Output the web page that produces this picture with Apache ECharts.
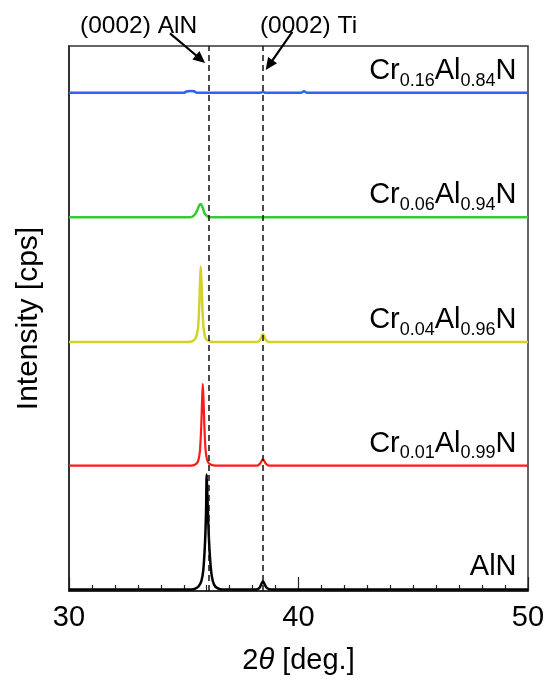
<!DOCTYPE html>
<html><head><meta charset="utf-8">
<script src="https://cdn.jsdelivr.net/npm/echarts@6/dist/echarts.min.js"></script>
<style>html,body{margin:0;padding:0;background:#fff}#c{width:550px;height:680px}</style>
</head><body><div id="c"></div>
<script>
// ---- data ----
const xTickLabels = [30, 40, 50];
const sampleLabels = ['AlN', 'Cr{s|0.01}Al{s|0.99}N', 'Cr{s|0.04}Al{s|0.96}N', 'Cr{s|0.06}Al{s|0.94}N', 'Cr{s|0.16}Al{s|0.84}N'];
const offsets = [0.27, 23.0, 45.7, 68.6, 91.4];

const alnX = [30, 35.35, 35.5, 35.65, 35.77, 35.85, 35.92, 35.97, 36.0, 36.04, 36.09, 36.15, 36.22, 36.32, 36.47, 36.7, 38.15, 38.3, 38.38, 38.45, 38.52, 38.62, 38.8, 50];
const alnY = [0, 0, 0.15, 0.6, 1.6, 3.5, 8, 14, 21.1, 16, 10, 5.5, 2.5, 0.9, 0.25, 0, 0, 0.3, 1.0, 1.5, 1.0, 0.3, 0, 0];

const cr01X = [30, 35.3, 35.5, 35.62, 35.7, 35.76, 35.8, 35.83, 35.87, 35.91, 35.96, 36.05, 36.2, 36.4, 38.2, 38.33, 38.45, 38.57, 38.7, 50];
const cr01Y = [0, 0, 0.2, 0.8, 2.5, 7, 12, 15.0, 11, 6, 2.5, 0.7, 0.15, 0, 0, 0.4, 1.2, 0.4, 0, 0];

const cr04X = [30, 35.2, 35.4, 35.53, 35.62, 35.68, 35.71, 35.74, 35.78, 35.82, 35.87, 35.96, 36.1, 36.3, 38.2, 38.33, 38.45, 38.57, 38.7, 50];
const cr04Y = [0, 0, 0.2, 0.8, 2.5, 7, 11, 13.8, 10, 5.5, 2.3, 0.6, 0.15, 0, 0, 0.4, 1.4, 0.4, 0, 0];

const cr06X = [30, 35.3, 35.45, 35.58, 35.68, 35.74, 35.82, 35.92, 36.05, 36.15, 50];
const cr06Y = [0, 0, 0.3, 1.2, 2.2, 2.4, 1.8, 0.6, 0.1, 0, 0];

const cr16X = [30, 35.0, 35.12, 35.3, 35.45, 35.58, 38.35, 38.45, 38.55, 40.1, 40.24, 40.38, 50];
const cr16Y = [0, 0, 0.25, 0.35, 0.3, 0, 0, 0.2, 0, 0, 0.3, 0, 0];

const seriesX = [alnX, cr01X, cr04X, cr06X, cr16X];
const seriesY = [alnY, cr01Y, cr04Y, cr06Y, cr16Y];
const refLines = [36.07, 38.44];
const refNames = ['(0002) AlN', '(0002) Ti'];

// ---- styles ----
const colors = ['#000000', '#ff1a1a', '#d2d22a', '#33cc33', '#2f62ee'];
const widths = [2.5, 2.2, 2.5, 2.5, 2.5];
const FONT = 'Liberation Sans, Arial, sans-serif';
const MAIN_FS = 29, SUB_FS = 18;

const chart = echarts.init(document.getElementById('c'), null, {renderer: 'canvas'});

const series = seriesX.map((xs, i) => ({
  type: 'line',
  data: xs.map((x, j) => [x, seriesY[i][j] + offsets[i]]),
  symbol: 'none',
  smooth: 0.3,
  lineStyle: {color: colors[i], width: widths[i]},
  z: 3,
  animation: false,
  markLine: i === 0 ? {
    silent: true,
    symbol: ['none', 'none'],
    label: {show: false},
    animation: false,
    lineStyle: {type: [6, 4], color: '#111', width: 1.5},
    data: refLines.map(v => ({xAxis: v}))
  } : undefined
}));

chart.setOption({
  animation: false,
  backgroundColor: '#fff',
  grid: {left: 69, right: 22, top: 46, bottom: 88.5, show: true, borderColor: '#333', borderWidth: 1.5, backgroundColor: 'transparent'},
  xAxis: {
    type: 'value', min: 30, max: 50, interval: 10,
    axisLine: {show: true, lineStyle: {color: '#222', width: 1.5}},
    axisTick: {show: true, inside: true, length: 14, lineStyle: {color: '#222', width: 1.2}},
    minorTick: {show: true, splitNumber: 10, length: 6, lineStyle: {color: '#222', width: 1.2}},
    splitLine: {show: false},
    axisLabel: {fontSize: 29, color: '#000', margin: 12, fontFamily: FONT,
      formatter: v => xTickLabels.includes(v) ? String(v) : ''},
    name: '2{i|θ} [deg.]', nameLocation: 'middle', nameGap: 55,
    nameTextStyle: {fontSize: 29, color: '#000', fontFamily: FONT,
      rich: {i: {fontStyle: 'italic', fontSize: 29, fontFamily: FONT, color: '#000'}}}
  },
  yAxis: {
    type: 'value', min: 0, max: 100,
    axisLine: {show: true, lineStyle: {color: '#222', width: 1.5}},
    axisTick: {show: false}, axisLabel: {show: false}, splitLine: {show: false},
    name: 'Intensity [cps]', nameLocation: 'middle', nameGap: 25, nameRotate: 90,
    nameTextStyle: {fontSize: 30, color: '#000', fontFamily: FONT}
  },
  series: series
});

// ---- annotations ----
const px = p => chart.convertToPixel({gridIndex: 0}, p);
const graphics = [];
const mctx = document.createElement('canvas').getContext('2d');
const measure = (t, fs) => { mctx.font = fs + 'px ' + FONT; return mctx.measureText(t).width; };

sampleLabels.forEach((t, i) => {
  const p = px([49.5, offsets[i]]);
  const baseline = p[1] - 12;
  // parse into parts
  const parts = [];
  const re = /\{s\|([^}]*)\}|([^{]+)/g;
  let m;
  while ((m = re.exec(t)) !== null) {
    if (m[1] !== undefined) parts.push({t: m[1], sub: true});
    else parts.push({t: m[2], sub: false});
  }
  let xr = p[0];
  for (let k = parts.length - 1; k >= 0; k--) {
    const pt = parts[k];
    const fs = pt.sub ? SUB_FS : MAIN_FS;
    const w = measure(pt.t, fs);
    const bl = pt.sub ? baseline + 6 : baseline;
    graphics.push({
      type: 'text', z: 20, silent: true,
      style: {text: pt.t, x: xr, y: bl - 0.347 * fs, align: 'right', verticalAlign: 'middle',
        fill: '#000', fontFamily: FONT, fontSize: fs}
    });
    xr -= w;
  }
});

const annotations = [
  {text: refNames[0], at: [30.48, 103.6], from: [34.40, 102.3], to: [35.93, 96.9]},
  {text: refNames[1], at: [38.32, 103.6], from: [39.73, 102.6], to: [38.57, 95.6]}
];
annotations.forEach(a => {
  const tp = px(a.at);
  graphics.push({type: 'text', z: 20, silent: true,
    style: {text: a.text, x: tp[0], y: tp[1], align: 'left', verticalAlign: 'middle', fill: '#000', fontFamily: FONT, fontSize: 24.5}});
  const s = px(a.from), e = px(a.to);
  const dx = e[0] - s[0], dy = e[1] - s[1];
  const L = Math.sqrt(dx * dx + dy * dy), ux = dx / L, uy = dy / L;
  const hl = 12, hw = 5.5;
  const bx = e[0] - ux * hl, by = e[1] - uy * hl;
  graphics.push({type: 'line', z: 20, silent: true, shape: {x1: s[0], y1: s[1], x2: bx + ux * 2, y2: by + uy * 2}, style: {stroke: '#000', lineWidth: 2.2}});
  graphics.push({type: 'polygon', z: 20, silent: true,
    shape: {points: [[e[0], e[1]], [bx - uy * hw, by + ux * hw], [bx + uy * hw, by - ux * hw]]},
    style: {fill: '#000'}});
});
chart.setOption({graphic: graphics});
</script>
</body></html>
